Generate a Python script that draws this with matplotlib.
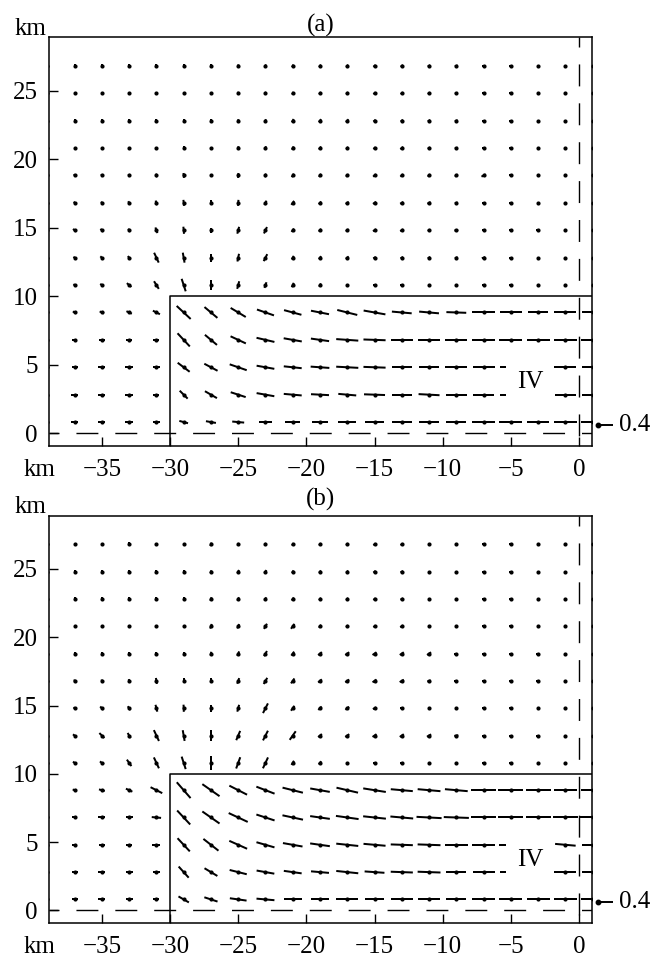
import numpy as np
import matplotlib
matplotlib.use("Agg")
import matplotlib.pyplot as plt

plt.rcParams['font.family'] = ['Liberation Serif', 'DejaVu Serif']
plt.rcParams['font.size'] = 18

# grid of vector origins (km)
cols = [-39, -37, -35, -33, -31, -29, -27, -25, -23, -21, -19,
        -17, -15, -13, -11, -9, -7, -5, -3, -1, 1]
rows = [0.8, 2.8, 4.8, 6.8, 8.8, 10.8, 12.8, 14.8, 16.8, 18.8,
        20.8, 22.8, 24.8, 26.8]

# panel (a): speed and direction (deg), bottom row first
speed_a = [
    [0.10, 0.19, 0.19, 0.21, 0.19, 0.24, 0.27, 0.32, 0.37, 0.40, 0.43, 0.48, 0.53, 0.53, 0.53, 0.53, 0.61, 0.61, 0.59, 0.61, 0.61],
    [0.10, 0.19, 0.19, 0.21, 0.16, 0.30, 0.37, 0.42, 0.48, 0.48, 0.48, 0.48, 0.56, 0.53, 0.56, 0.56, 0.56, 0.56, 0.56, 0.56, 0.56],
    [0.10, 0.16, 0.19, 0.21, 0.19, 0.40, 0.40, 0.48, 0.48, 0.48, 0.50, 0.59, 0.59, 0.53, 0.53, 0.59, 0.59, 0.59, 0.59, 0.59, 0.59],
    [0.10, 0.13, 0.16, 0.16, 0.16, 0.48, 0.42, 0.45, 0.49, 0.49, 0.49, 0.59, 0.59, 0.59, 0.59, 0.59, 0.61, 0.61, 0.61, 0.61, 0.61],
    [0.08, 0.11, 0.13, 0.16, 0.21, 0.51, 0.45, 0.47, 0.48, 0.48, 0.49, 0.55, 0.59, 0.53, 0.53, 0.53, 0.61, 0.59, 0.53, 0.59, 0.59],
    [0.05, 0.08, 0.11, 0.16, 0.24, 0.35, 0.27, 0.21, 0.16, 0.13, 0.10, 0.08, 0.08, 0.08, 0.08, 0.08, 0.08, 0.08, 0.08, 0.08, 0.00],
    [0.05, 0.08, 0.11, 0.11, 0.29, 0.27, 0.21, 0.21, 0.21, 0.11, 0.10, 0.10, 0.08, 0.08, 0.08, 0.08, 0.10, 0.08, 0.08, 0.08, 0.00],
    [0.05, 0.11, 0.11, 0.10, 0.16, 0.19, 0.13, 0.19, 0.19, 0.11, 0.10, 0.10, 0.10, 0.10, 0.08, 0.10, 0.10, 0.10, 0.10, 0.10, 0.00],
    [0.05, 0.08, 0.08, 0.10, 0.13, 0.16, 0.13, 0.16, 0.13, 0.13, 0.10, 0.10, 0.10, 0.10, 0.10, 0.08, 0.10, 0.10, 0.08, 0.08, 0.00],
    [0.05, 0.08, 0.08, 0.08, 0.10, 0.13, 0.10, 0.13, 0.10, 0.11, 0.10, 0.10, 0.10, 0.10, 0.10, 0.10, 0.13, 0.08, 0.08, 0.08, 0.00],
    [0.05, 0.08, 0.08, 0.08, 0.08, 0.10, 0.08, 0.10, 0.10, 0.10, 0.10, 0.08, 0.08, 0.10, 0.08, 0.08, 0.08, 0.08, 0.08, 0.08, 0.00],
    [0.05, 0.08, 0.08, 0.08, 0.08, 0.08, 0.08, 0.08, 0.08, 0.10, 0.10, 0.10, 0.08, 0.08, 0.08, 0.08, 0.08, 0.08, 0.08, 0.08, 0.00],
    [0.05, 0.08, 0.08, 0.08, 0.08, 0.08, 0.08, 0.08, 0.08, 0.08, 0.08, 0.08, 0.08, 0.08, 0.08, 0.08, 0.08, 0.08, 0.08, 0.08, 0.00],
    [0.05, 0.08, 0.08, 0.08, 0.08, 0.08, 0.08, 0.08, 0.08, 0.08, 0.08, 0.08, 0.08, 0.08, 0.08, 0.08, 0.08, 0.08, 0.08, 0.08, 0.00],
]
angle_a = [
    [180, 180, 180, 180, 180, 165, 170, 175, 180, 180, 180, 180, 180, 180, 180, 180, 180, 180, 180, 180, 180],
    [180, 180, 180, 180, 180, 135, 150, 162, 170, 175, 177, 175, 178, 180, 177, 180, 180, 180, 180, 180, 180],
    [180, 180, 180, 180, 180, 143, 152, 161, 170, 174, 176, 177, 178, 180, 180, 180, 180, 180, 180, 180, 180],
    [180, 180, 180, 180, 180, 133, 140, 155, 167, 170, 172, 176, 178, 180, 180, 180, 180, 180, 180, 180, 180],
    [150, 150, 155, 155, 153, 137, 140, 149, 161, 165, 169, 166, 170, 175, 175, 178, 180, 180, 180, 180, 180],
    [150, 145, 145, 140, 122, 108, 90, 75, 70, 65, 60, 0, 0, 0, 0, 0, 0, 0, 0, 0, 0],
    [145, 145, 140, 130, 115, 100, 90, 78, 63, 60, 50, 40, 30, 30, 30, 25, 20, 0, 0, 0, 0],
    [140, 140, 135, 120, 110, 95, 90, 75, 65, 55, 45, 40, 35, 30, 25, 10, 0, 0, 0, 0, 0],
    [120, 120, 120, 120, 110, 95, 90, 85, 65, 55, 45, 35, 35, 30, 30, 20, 0, 0, 0, 0, 0],
    [110, 110, 110, 110, 110, 95, 90, 85, 70, 60, 50, 40, 40, 40, 40, 40, 30, 0, 0, 0, 0],
    [90, 90, 90, 90, 90, 90, 90, 80, 70, 60, 50, 45, 40, 40, 30, 20, 0, 0, 0, 0, 0],
    [90, 90, 90, 90, 90, 90, 90, 80, 70, 60, 50, 45, 40, 40, 30, 20, 0, 0, 0, 0, 0],
    [90, 90, 90, 90, 90, 90, 90, 80, 70, 60, 50, 45, 40, 40, 30, 20, 0, 0, 0, 0, 0],
    [90, 90, 90, 90, 90, 90, 90, 80, 70, 60, 50, 45, 40, 40, 30, 20, 0, 0, 0, 0, 0],
]

# panel (b)
speed_b = [
    [0.10, 0.16, 0.19, 0.19, 0.16, 0.32, 0.37, 0.45, 0.48, 0.48, 0.48, 0.59, 0.53, 0.59, 0.59, 0.53, 0.61, 0.61, 0.61, 0.61, 0.61],
    [0.10, 0.16, 0.19, 0.19, 0.19, 0.40, 0.40, 0.47, 0.48, 0.48, 0.48, 0.59, 0.53, 0.59, 0.61, 0.53, 0.59, 0.59, 0.59, 0.59, 0.59],
    [0.10, 0.13, 0.16, 0.16, 0.21, 0.48, 0.51, 0.52, 0.50, 0.53, 0.53, 0.59, 0.59, 0.59, 0.61, 0.61, 0.61, 0.61, 0.61, 0.55, 0.59],
    [0.10, 0.13, 0.19, 0.19, 0.25, 0.51, 0.56, 0.56, 0.51, 0.56, 0.53, 0.61, 0.61, 0.61, 0.67, 0.67, 0.67, 0.67, 0.67, 0.67, 0.67],
    [0.08, 0.11, 0.16, 0.19, 0.35, 0.56, 0.56, 0.53, 0.52, 0.56, 0.53, 0.59, 0.61, 0.59, 0.61, 0.61, 0.67, 0.67, 0.67, 0.61, 0.61],
    [0.05, 0.11, 0.13, 0.21, 0.32, 0.35, 0.37, 0.32, 0.32, 0.13, 0.11, 0.08, 0.08, 0.08, 0.08, 0.08, 0.08, 0.08, 0.08, 0.08, 0.00],
    [0.05, 0.11, 0.19, 0.16, 0.32, 0.29, 0.29, 0.27, 0.29, 0.28, 0.13, 0.13, 0.13, 0.13, 0.13, 0.11, 0.10, 0.10, 0.10, 0.10, 0.00],
    [0.05, 0.08, 0.13, 0.13, 0.19, 0.19, 0.19, 0.19, 0.29, 0.16, 0.13, 0.13, 0.10, 0.08, 0.08, 0.08, 0.08, 0.08, 0.08, 0.08, 0.00],
    [0.05, 0.08, 0.08, 0.10, 0.16, 0.13, 0.13, 0.16, 0.19, 0.16, 0.13, 0.13, 0.13, 0.13, 0.10, 0.10, 0.10, 0.10, 0.10, 0.10, 0.00],
    [0.05, 0.08, 0.08, 0.08, 0.08, 0.08, 0.10, 0.13, 0.16, 0.13, 0.13, 0.13, 0.13, 0.13, 0.13, 0.10, 0.10, 0.10, 0.10, 0.10, 0.00],
    [0.05, 0.08, 0.08, 0.08, 0.08, 0.08, 0.13, 0.13, 0.16, 0.16, 0.10, 0.08, 0.08, 0.10, 0.08, 0.08, 0.08, 0.08, 0.08, 0.08, 0.00],
    [0.05, 0.08, 0.08, 0.08, 0.08, 0.08, 0.10, 0.10, 0.10, 0.10, 0.08, 0.08, 0.08, 0.08, 0.08, 0.08, 0.08, 0.08, 0.08, 0.08, 0.00],
    [0.05, 0.08, 0.08, 0.08, 0.08, 0.08, 0.08, 0.10, 0.10, 0.08, 0.08, 0.08, 0.08, 0.08, 0.08, 0.08, 0.08, 0.08, 0.08, 0.08, 0.00],
    [0.05, 0.08, 0.08, 0.10, 0.08, 0.08, 0.10, 0.08, 0.08, 0.08, 0.08, 0.08, 0.08, 0.08, 0.08, 0.08, 0.08, 0.08, 0.08, 0.08, 0.00],
]
angle_b = [
    [180, 180, 180, 180, 180, 150, 162, 172, 175, 180, 180, 180, 180, 180, 180, 180, 180, 180, 180, 180, 180],
    [180, 180, 180, 180, 180, 132, 149, 166, 170, 172, 175, 174, 176, 178, 178, 180, 180, 180, 180, 180, 180],
    [180, 180, 180, 180, 180, 133, 142, 156, 164, 170, 172, 174, 175, 178, 178, 180, 180, 180, 180, 175, 180],
    [180, 180, 180, 180, 175, 133, 145, 155, 162, 168, 172, 172, 174, 175, 177, 178, 180, 180, 180, 180, 180],
    [160, 160, 165, 155, 153, 131, 145, 153, 159, 166, 170, 167, 171, 175, 175, 175, 180, 180, 180, 180, 180],
    [150, 145, 145, 125, 115, 108, 90, 70, 65, 60, 50, 0, 0, 0, 0, 0, 0, 0, 0, 0, 0],
    [145, 145, 135, 120, 115, 100, 90, 67, 63, 55, 40, 35, 35, 35, 30, 10, 0, 0, 0, 0, 0],
    [140, 140, 135, 125, 105, 92, 90, 75, 63, 55, 45, 40, 30, 0, 0, 0, 0, 0, 0, 0, 0],
    [100, 100, 100, 100, 100, 90, 90, 70, 60, 55, 40, 35, 35, 30, 20, 0, 0, 0, 0, 0, 0],
    [90, 90, 90, 90, 90, 90, 80, 65, 60, 55, 40, 35, 35, 35, 35, 0, 0, 0, 0, 0, 0],
    [90, 90, 90, 90, 90, 90, 70, 65, 60, 55, 50, 45, 40, 30, 0, 0, 0, 0, 0, 0, 0],
    [90, 90, 90, 90, 90, 90, 70, 65, 60, 55, 50, 45, 40, 30, 0, 0, 0, 0, 0, 0, 0],
    [90, 90, 90, 90, 90, 90, 70, 65, 60, 55, 50, 45, 40, 30, 0, 0, 0, 0, 0, 0, 0],
    [90, 90, 90, 90, 90, 90, 70, 65, 60, 55, 50, 45, 40, 30, 0, 0, 0, 0, 0, 0, 0],
]

xticks = [-35, -30, -25, -20, -15, -10, -5, 0]
yticks = [0, 5, 10, 15, 20, 25]
key_value = 0.4
box_x, box_top = -30, 10
label_xy = (-3.6, 3.7)

XLIM = (-38.88, 0.95)
YLIM = (-0.95, 28.9)
PX_PER_UNIT = 37.5   # arrow length in pixels for speed 1
AX_W_PX = 543.0

fig = plt.figure(figsize=(6.62, 9.58), dpi=100)
ax_a = fig.add_axes([0.0740, 0.5344, 0.8202, 0.4269])
ax_b = fig.add_axes([0.0740, 0.0362, 0.8202, 0.4255])

X, Y = np.meshgrid(cols, rows)


def draw_panel(ax, speed, angle, title, tpad):
    spd = np.array(speed)
    ang = np.deg2rad(np.array(angle))
    U = spd * np.cos(ang)
    V = spd * np.sin(ang)
    ax.set_xlim(*XLIM)
    ax.set_ylim(*YLIM)

    ax.quiver(X, Y, U, V, angles='uv', scale_units='dots',
              scale=1.0 / PX_PER_UNIT, pivot='middle', units='dots',
              width=2.0, headwidth=0, headlength=0, headaxislength=0,
              minlength=0, color='k', zorder=3)
    ax.scatter(X.ravel(), Y.ravel(), s=9, color='k', lw=0, zorder=4)

    # dashed lines along y=0 and x=0
    ax.plot(XLIM, [0, 0], color='k', lw=1.0, ls=(8.6, (15.8, 12.2)), zorder=2)
    ax.plot([0, 0], YLIM[::-1], color='k', lw=1.0, ls=(8.6, (15.8, 12.2)), zorder=2)
    # region boundary
    ax.plot([box_x, box_x, XLIM[1]], [YLIM[0], box_top, box_top],
            color='k', lw=1.1, zorder=2)

    ax.text(*label_xy, 'IV', ha='center', va='center', fontsize=18, zorder=5,
            bbox=dict(boxstyle='square,pad=0.42', fc='white', ec='none'))

    # velocity key: dot + segment of length key_value, outside right edge
    kx0, ky = 1.011, 0.052
    kx1 = kx0 + key_value * PX_PER_UNIT / AX_W_PX
    ax.plot([kx0, kx1], [ky, ky], color='k', lw=1.4, transform=ax.transAxes,
            clip_on=False, solid_capstyle='butt')
    ax.plot([kx0], [ky], 'o', ms=3.2, color='k', transform=ax.transAxes,
            clip_on=False)
    ax.text(kx1 + 0.012, ky, '%.1f' % key_value, transform=ax.transAxes,
            ha='left', va='center', fontsize=18)

    ax.set_xticks(xticks)
    ax.set_yticks(yticks)
    ax.tick_params(direction='in', length=6.5, width=1.0, labelsize=18)
    ax.tick_params(axis='x', pad=9)
    ax.tick_params(axis='y', pad=8)
    for s in ax.spines.values():
        s.set_linewidth(1.1)

    ax.text(-0.004, 1.006, 'km', transform=ax.transAxes, ha='right',
            va='baseline', fontsize=18)
    ax.text(0.011, -0.0728, 'km', transform=ax.transAxes, ha='right',
            va='baseline', fontsize=18)
    ax.set_title(title, fontsize=18, pad=tpad)


draw_panel(ax_a, speed_a, angle_a, '(a)', 4)
draw_panel(ax_b, speed_b, angle_b, '(b)', 7)

fig.savefig('out.png', dpi=100)
